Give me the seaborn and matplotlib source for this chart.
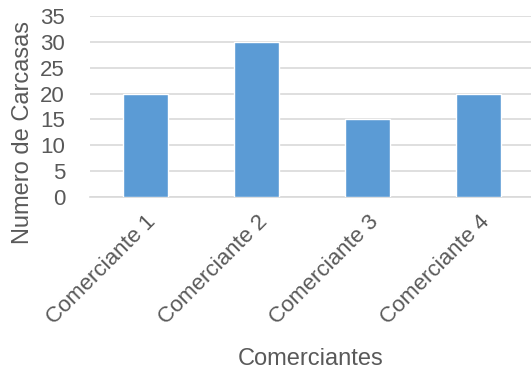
import matplotlib
matplotlib.use("Agg")
import matplotlib.pyplot as plt
import seaborn as sns
import pandas as pd

comerciantes = ["Comerciante 1", "Comerciante 2", "Comerciante 3", "Comerciante 4"]
carcasas = [20, 30, 15, 20]
y_ticks = [0, 5, 10, 15, 20, 25, 30, 35]

sns.set_theme(style="white")
plt.rcParams["font.family"] = ["Liberation Sans", "DejaVu Sans"]

gris = "#595959"
df = pd.DataFrame({"Comerciantes": comerciantes, "Carcasas": carcasas})

fig = plt.figure(figsize=(5.31, 3.73), dpi=100)
ax = fig.add_axes([90 / 531, 176 / 373, 441 / 531, 181 / 373])

sns.barplot(data=df, x="Comerciantes", y="Carcasas", color="#5b9bd5",
            saturation=1, width=0.405, ax=ax, zorder=3)

ax.set_xlim(-0.5, 3.47)
ax.set_ylim(0, 35)
ax.set_yticks(y_ticks)
ax.yaxis.grid(True, color="#d9d9d9", linewidth=1.2, zorder=0)
ax.set_axisbelow(True)
for s in ["top", "right", "left"]:
    ax.spines[s].set_visible(False)
ax.spines["bottom"].set_color("#d9d9d9")
ax.spines["bottom"].set_linewidth(1.2)
ax.tick_params(axis="both", length=0, colors=gris, labelsize=16)
ax.tick_params(axis="y", pad=18)
plt.setp(ax.get_xticklabels(), rotation=45, ha="right", rotation_mode="anchor")
ax.tick_params(axis="x", pad=10)

ax.set_ylabel("Numero de Carcasas", color=gris, fontsize=17)
ax.yaxis.set_label_coords(-56 / 441, (197 - 132) / 181)
ax.set_xlabel("Comerciantes", color=gris, fontsize=17, labelpad=14)

fig.savefig("out.png", dpi=100)
plt.close()
